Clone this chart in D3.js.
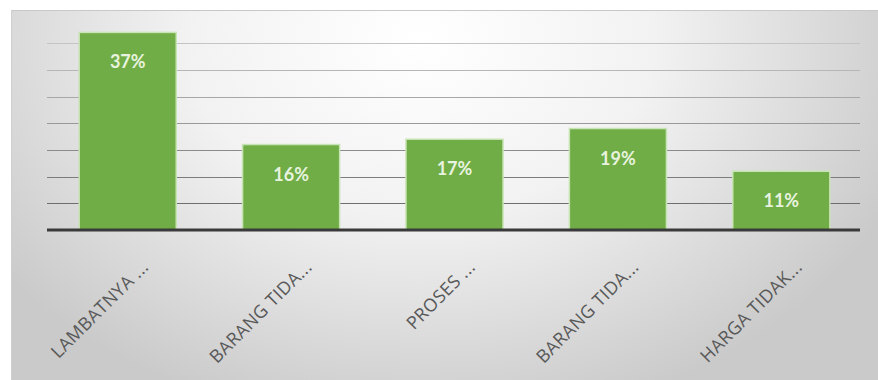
<!DOCTYPE html>
<html>
<meta charset="utf-8">
<style>
body { margin: 0; background: #fff; }
.grid line { stroke-width: 1.2; }
.cat { font-family: "Open Sans", sans-serif; font-size: 18px; fill: #595959; letter-spacing: 0.4px; }
.val { font-family: "Lato", sans-serif; font-size: 18px; font-weight: bold; fill: #e8f3df; }
</style>
<body>
<svg width="878" height="380"></svg>
<script src="https://cdnjs.cloudflare.com/ajax/libs/d3/7.8.5/d3.min.js"></script>
<script>

var categories = ["LAMBATNYA ...", "BARANG TIDA...", "PROSES ...", "BARANG TIDA...", "HARGA TIDAK..."];
var values = [0.37, 0.16, 0.17, 0.19, 0.11];
var valueLabels = ["37%", "16%", "17%", "19%", "11%"];
var gridTicks = [0.05, 0.10, 0.15, 0.20, 0.25, 0.30, 0.35];

var svg = d3.select("svg");

// background panel with soft grey gradient
var defs = svg.append("defs");
var bg = defs.append("radialGradient")
    .attr("id", "bg")
    .attr("gradientUnits", "userSpaceOnUse")
    .attr("cx", 420).attr("cy", 40).attr("r", 520)
    .attr("gradientTransform", "translate(420,40) scale(1,0.75) translate(-420,-40)");
bg.append("stop").attr("offset", "0%").attr("stop-color", "#ffffff");
bg.append("stop").attr("offset", "45%").attr("stop-color", "#f2f2f2");
bg.append("stop").attr("offset", "100%").attr("stop-color", "#cacaca");

svg.append("rect")
    .attr("x", 11).attr("y", 10)
    .attr("width", 867).attr("height", 370)
    .attr("fill", "url(#bg)");
svg.append("line")
    .attr("x1", 11).attr("x2", 878).attr("y1", 10.5).attr("y2", 10.5)
    .attr("stroke", "#c8c8c8");
svg.append("line")
    .attr("x1", 11.5).attr("x2", 11.5).attr("y1", 10).attr("y2", 380)
    .attr("stroke", "#d0d0d0");

var x = d3.scaleBand()
    .domain(d3.range(categories.length))
    .range([46, 863])
    .paddingInner(0.406)
    .paddingOuter(0.203);

var y = d3.scaleLinear()
    .domain([0, 0.40])
    .range([230, 16.4]);

var gridColor = d3.scaleLinear()
    .domain([0.05, 0.35])
    .range(["#6e6e6e", "#c4c4c4"]);

svg.append("g")
    .attr("class", "grid")
  .selectAll("line")
    .data(gridTicks)
  .enter().append("line")
    .attr("x1", 47).attr("x2", 860)
    .attr("y1", function(d) { return Math.round(y(d)) + 0.5; })
    .attr("y2", function(d) { return Math.round(y(d)) + 0.5; })
    .attr("stroke", function(d) { return gridColor(d); });

svg.append("g")
  .selectAll("rect")
    .data(values)
  .enter().append("rect")
    .attr("x", function(d, i) { return x(i); })
    .attr("y", function(d) { return y(d); })
    .attr("width", x.bandwidth())
    .attr("height", function(d) { return y(0) - y(d); })
    .attr("fill", "#70ad47")
    .attr("stroke", "#c9e4b4")
    .attr("stroke-width", 1.5);

svg.append("g")
  .selectAll("text")
    .data(values)
  .enter().append("text")
    .attr("class", "val")
    .attr("text-anchor", "middle")
    .attr("x", function(d, i) { return x(i) + x.bandwidth() / 2; })
    .attr("y", function(d) { return y(d) + 36; })
    .text(function(d, i) { return valueLabels[i]; });

// baseline
svg.append("line")
    .attr("x1", 47).attr("x2", 860)
    .attr("y1", y(0)).attr("y2", y(0))
    .attr("stroke", "#3a3a3a")
    .attr("stroke-width", 3);

svg.append("g")
  .selectAll("text")
    .data(categories)
  .enter().append("text")
    .attr("class", "cat")
    .attr("text-anchor", "end")
    .attr("transform", function(d, i) {
      var cx = x(i) + x.bandwidth() / 2 + 22;
      return "translate(" + cx + ",268) rotate(-45)";
    })
    .text(function(d) { return d; });

</script>
</body>
</html>
